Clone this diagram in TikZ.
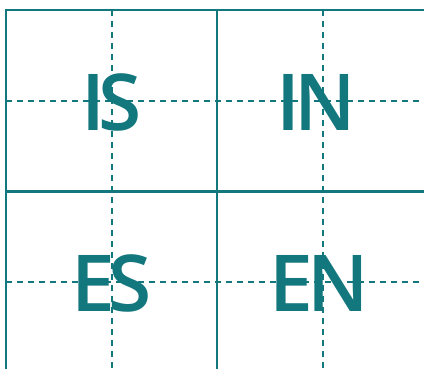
\documentclass[tikz,border=0pt]{standalone}
\usepackage{fontspec}
\setmainfont{Open Sans}
\newfontfamily\labelfont{Open Sans Semibold}[LetterSpace=-8]
\definecolor{teal1}{RGB}{19,119,126}
\begin{document}
\begin{tikzpicture}[x=1pt,y=-1pt,
  solidline/.style={draw=teal1,line width=2.4pt},
  dashline/.style={draw=teal1,line width=1.5pt,dash pattern=on 6pt off 5pt},
  label/.style={text=teal1,font=\labelfont\fontsize{78.5}{78.5}\selectfont,inner sep=0pt,anchor=center}]
\useasboundingbox (0,0) rectangle (424,369);
% dashed guides
\draw[dashline] (112,10) -- (112,369);
\draw[dashline] (323,10) -- (323,369);
\draw[dashline] (6,101) -- (424,101);
\draw[dashline] (6,282) -- (424,282);
% solid grid
\draw[solidline] (6,369) -- (6,10) -- (424,10);
\draw[solidline] (217,10) -- (217,369);
\draw[solidline] (6,191.5) -- (424,191.5);
% labels
\node[label] (is) at (111.5,102) {IS};
\node[label] (in) at (316,102) {IN};
\node[label] (es) at (111.5,283.5) {ES};
\node[label] (en) at (319.5,283.5) {EN};
\end{tikzpicture}
\end{document}
